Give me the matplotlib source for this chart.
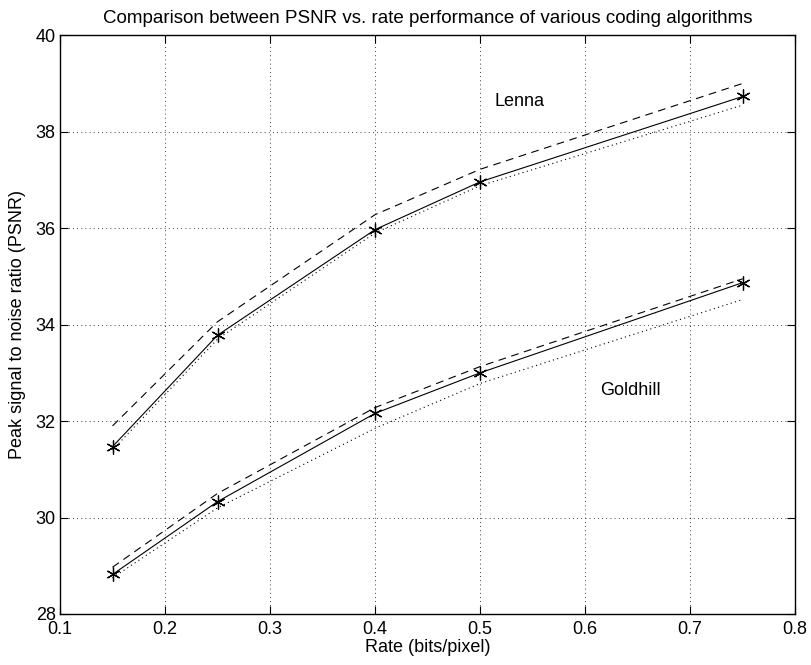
import numpy as np
import matplotlib
matplotlib.use('Agg')
import matplotlib.pyplot as plt

plt.rcParams['font.family'] = ['Liberation Sans', 'DejaVu Sans']

# Datos
rate = [0.15, 0.25, 0.4, 0.5, 0.75]

lenna_sol = [31.47, 33.78, 35.97, 36.96, 38.73]
lenna_dash = [31.90, 34.06, 36.28, 37.22, 39.00]
lenna_dot = [31.40, 33.70, 35.90, 36.88, 38.55]

gold_sol = [28.82, 30.33, 32.16, 33.00, 34.87]
gold_dash = [28.97, 30.50, 32.28, 33.13, 34.95]
gold_dot = [28.75, 30.20, 31.85, 32.78, 34.52]

xticks = [0.1, 0.2, 0.3, 0.4, 0.5, 0.6, 0.7, 0.8]
yticks = [28, 30, 32, 34, 36, 38, 40]

fig = plt.figure(figsize=(8.12, 6.65), dpi=100)
ax = fig.add_axes([0.0739, 0.0767, 0.9053, 0.8703])

ast = (6, 2, 0)
for sol, dash, dot in [(lenna_sol, lenna_dash, lenna_dot), (gold_sol, gold_dash, gold_dot)]:
    ax.plot(rate, sol, color='k', lw=0.8, marker=ast, ms=10, mew=0.9)
    ax.plot(rate, dash, color='k', lw=0.8, ls=(0, (7, 5)))
    ax.plot(rate, dot, color='k', lw=0.8, ls=(0, (1, 3)))

ax.text(0.514, 38.62, 'Lenna', fontsize=13, va='center')
ax.text(0.614, 32.64, 'Goldhill', fontsize=13, va='center')

ax.set_xlim(0.1, 0.8)
ax.set_ylim(28, 40)
ax.set_xticks(xticks)
ax.set_yticks(yticks)
ax.set_xticklabels(['%g' % v for v in xticks])
ax.grid(True, color='k', ls=(0, (1, 4)), lw=0.6)
ax.tick_params(direction='in', top=True, right=True, labelsize=13, length=6)
ax.tick_params(axis='x', pad=5)
ax.tick_params(axis='y', pad=3)
for s in ax.spines.values():
    s.set_linewidth(1.0)

ax.set_title('Comparison between PSNR vs. rate performance of various coding algorithms', fontsize=13.5, pad=9)
ax.set_xlabel('Rate (bits/pixel)', fontsize=13, labelpad=1)
ax.set_ylabel('Peak signal to noise ratio (PSNR)', fontsize=13, labelpad=7)

fig.savefig('out.png', dpi=100)
